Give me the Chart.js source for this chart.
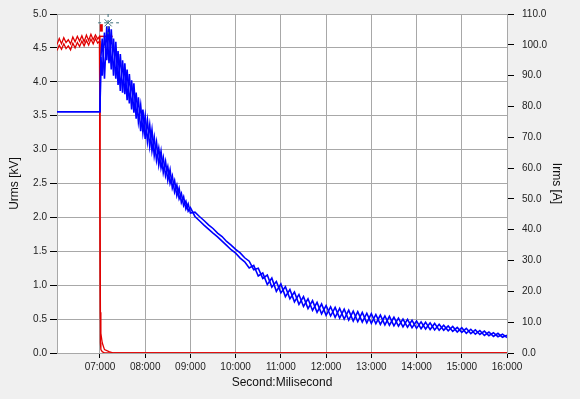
<!DOCTYPE html>
<html>
<head>
<meta charset="utf-8">
<script src="https://cdn.jsdelivr.net/npm/chart.js@4.4.0/dist/chart.umd.min.js"></script>
<style>
  body { margin: 0; background: #f0f0f0; }
  #wrap { width: 580px; height: 399px; }
</style>
</head>
<body>
<div id="wrap"><canvas id="myChart" width="580" height="399"></canvas></div>
<script>
// x ticks (seconds)
const xTicks = [7, 8, 9, 10, 11, 12, 13, 14, 15, 16];

// current traces (A), right axis
const blueTimes = [6.05, 7.00, 7.02,
  7.05, 7.10, 7.15, 7.20, 7.25, 7.30, 7.35, 7.40, 7.45, 7.50,
  7.55, 7.60, 7.65, 7.70, 7.75, 7.80, 7.85, 7.90, 7.95, 8.00,
  8.05, 8.10, 8.15, 8.20, 8.25, 8.30, 8.35, 8.40, 8.45, 8.50,
  8.55, 8.60, 8.65, 8.70, 8.75, 8.80, 8.85, 8.90, 8.95, 9.00,
  9.1, 9.2, 9.3, 9.4, 9.5, 9.6, 9.7, 9.8, 9.9, 10.0,
  10.1, 10.2, 10.3, 10.4, 10.5, 10.6, 10.7, 10.8, 10.9, 11.0,
  11.1, 11.2, 11.3, 11.4, 11.5, 11.6, 11.7, 11.8, 11.9, 12.0,
  12.1, 12.2, 12.3, 12.4, 12.5, 12.6, 12.7, 12.8, 12.9, 13.0,
  13.1, 13.2, 13.3, 13.4, 13.5, 13.6, 13.7, 13.8, 13.9, 14.0,
  14.1, 14.2, 14.3, 14.4, 14.5, 14.6, 14.7, 14.8, 14.9, 15.0,
  15.1, 15.2, 15.3, 15.4, 15.5, 15.6, 15.7, 15.8, 15.9, 16.0];

const irmsA = [78.3, 78.3, 96,
  102, 89, 106, 94, 105, 90, 101, 87, 97, 84.5,
  94, 82, 90.5, 79, 87.5, 76, 83, 72, 79, 69.5,
  75.5, 67, 72.5, 64, 68.5, 61, 65.5, 58.5, 62.2, 56,
  59.5, 53.5, 56, 51, 53.5, 48.8, 50.7, 46.7, 48.4, 45.4,
  45.7, 44.3, 43.0, 41.6, 40.4, 38.9, 37.8, 36.2, 35.0, 33.6,
  32.5, 30.9, 29.8, 27.0, 27.5, 24.2, 25.3, 21.4, 23.2, 19.5,
  21.5, 17.6, 19.8, 15.8, 18.3, 14.4, 17.0, 13.2, 15.9, 12.2,
  15.0, 11.6, 14.5, 11.0, 13.9, 10.4, 13.4, 10.0, 12.9, 9.6,
  12.5, 9.3, 12.0, 9.0, 11.6, 8.7, 11.0, 8.4, 10.6, 8.0,
  10.1, 7.8, 9.8, 7.5, 9.3, 7.4, 8.8, 7.0, 8.3, 6.7,
  8.0, 6.3, 7.5, 6.0, 7.1, 5.6, 6.6, 5.3, 6.1, 5.0];

const irmsB = [78.3, 78.3, 96,
  90, 104, 95, 106, 92, 102, 89, 98, 85, 95,
  84, 92, 81, 88.5, 78, 84.5, 75, 80.5, 71.5, 77,
  68.5, 74, 65.5, 70, 62.5, 66.5, 60, 63.5, 57.5, 60.5,
  55, 57.5, 52.2, 54.5, 50, 51.8, 47.8, 49.3, 46, 47.2,
  44.3, 42.9, 41.5, 40.2, 38.9, 37.7, 36.3, 34.9, 33.5, 32.4,
  30.8, 29.6, 27.6, 28.4, 25.0, 26.0, 22.2, 24.3, 20.0, 22.4,
  18.3, 20.6, 16.6, 19.0, 15.1, 17.6, 13.8, 16.4, 12.7, 15.4,
  12.0, 14.8, 11.3, 14.2, 10.7, 13.6, 10.2, 13.2, 9.8, 12.8,
  9.5, 12.3, 9.1, 11.9, 8.8, 11.3, 8.5, 10.9, 8.2, 10.4,
  7.9, 10.0, 7.6, 9.6, 7.4, 9.0, 7.2, 8.6, 6.8, 8.2,
  6.4, 7.7, 6.1, 7.3, 5.7, 6.8, 5.4, 6.4, 5.1, 5.8];

// voltage traces (kV), left axis
const redTimes = [6.05, 6.10, 6.15, 6.20, 6.25, 6.30, 6.35, 6.40, 6.45, 6.50,
  6.55, 6.60, 6.65, 6.70, 6.75, 6.80, 6.85, 6.90, 6.95, 6.99,
  7.00, 7.01, 7.02, 7.05, 7.10, 7.20, 7.30, 16.0];
const urmsA = [4.55, 4.64, 4.56, 4.65, 4.58, 4.62, 4.56, 4.66, 4.59, 4.67,
  4.60, 4.68, 4.59, 4.69, 4.61, 4.70, 4.62, 4.69, 4.63, 4.67,
  2.3, 0.6, 0.29, 0.15, 0.05, 0.02, 0.0, 0.0];
const urmsB = [4.46, 4.54, 4.48, 4.56, 4.49, 4.53, 4.47, 4.57, 4.50, 4.58,
  4.52, 4.60, 4.53, 4.61, 4.54, 4.63, 4.56, 4.64, 4.57, 4.60,
  2.3, 0.15, 0.05, 0.02, 0.0, 0.0, 0.0, 0.0];

// short voltage pieces right at the switch-off
const holdTimes = [7.0, 7.28];
const holdKV = [4.67, 4.67];
const spikeTimes = [7.03, 7.03];
const spikeKV = [4.74, 4.85];

// cursor marker
const cursorT = 7.18;
const cursorKV = 4.87;

function pts(xs, ys) {
    return xs.map((x, i) => ({x: x, y: ys[i]}));
}

// white plot area
const plotBg = {
    id: 'plotBg',
    beforeDraw(chart) {
        const a = chart.chartArea;
        const ctx = chart.ctx;
        ctx.save();
        ctx.fillStyle = '#ffffff';
        ctx.fillRect(a.left, a.top, a.right - a.left, a.bottom - a.top);
        ctx.restore();
    }
};

const BLUE = '#0000ff';
const RED = '#e00000';
const CURSOR = '#3d6e7a';
const tickFont = {family: 'Liberation Sans', size: 10};
const titleFont = {family: 'Liberation Sans', size: 12};

const line = (data, color, axis, width) => ({
    data: data,
    borderColor: color,
    borderWidth: width || 1,
    pointRadius: 0,
    tension: 0,
    fill: false,
    yAxisID: axis
});

var ctx = document.getElementById('myChart').getContext('2d');
var myChart = new Chart(ctx, {
    type: 'line',
    data: {
        datasets: [
            {...line([{x: cursorT, y: cursorKV}], CURSOR, 'y', 1), pointRadius: 5, pointStyle: 'crossRot', pointBorderColor: CURSOR, showLine: false},
            {...line([{x: 6.96, y: cursorKV}, {x: 7.42, y: cursorKV}], CURSOR, 'y'), borderDash: [3, 3]},
            {...line([{x: cursorT, y: 5.0}, {x: cursorT, y: 4.70}], CURSOR, 'y'), borderDash: [3, 3]},
            line(pts(blueTimes, irmsA), BLUE, 'y1', 1.6),
            line(pts(blueTimes, irmsB), BLUE, 'y1', 1.6),
            line(pts(spikeTimes, spikeKV), RED, 'y', 3),
            line(pts(holdTimes, holdKV), RED, 'y', 1.5),
            line(pts(redTimes, urmsA), RED, 'y', 1.3),
            line(pts(redTimes, urmsB), RED, 'y', 1.3)
        ]
    },
    options: {
        responsive: false,
        animation: false,
        layout: { padding: {top: 9, left: 0, right: 0, bottom: 0} },
        plugins: { legend: {display: false}, tooltip: {enabled: false} },
        scales: {
            x: {
                type: 'linear',
                min: 6.05,
                max: 16,
                afterBuildTicks: (s) => { s.ticks = xTicks.map(v => ({value: v})); },
                afterFit: (s) => { s.height = 46; },
                grid: { color: '#a8a8a8', tickColor: '#000', tickLength: 5 },
                border: { color: '#a8a8a8' },
                ticks: {
                    font: tickFont, color: '#222', padding: 3, maxRotation: 0,
                    callback: (v) => String(v).padStart(2, '0') + ':000'
                },
                title: { display: true, text: 'Second:Milisecond', font: titleFont, color: '#111', padding: {top: 0, bottom: 9} }
            },
            y: {
                position: 'left',
                min: 0,
                max: 5,
                afterFit: (s) => { s.width = 57; },
                grid: { color: '#a8a8a8', tickColor: '#000', tickLength: 7 },
                border: { color: '#a8a8a8' },
                ticks: { stepSize: 0.5, font: tickFont, color: '#222', padding: 3, callback: (v) => v.toFixed(1) },
                title: { display: true, text: 'Urms [kV]', font: titleFont, color: '#111', padding: {top: 7, bottom: 0} }
            },
            y1: {
                position: 'right',
                min: 0,
                max: 110,
                afterFit: (s) => { s.width = 73; },
                grid: { drawOnChartArea: false, tickColor: '#000', tickLength: 7 },
                border: { color: '#a8a8a8' },
                ticks: { stepSize: 10, font: tickFont, color: '#222', padding: 8, callback: (v) => v.toFixed(1) },
                title: { display: true, text: 'Irms [A]', font: titleFont, color: '#111', padding: {top: 16, bottom: 0} }
            }
        }
    },
    plugins: [plotBg]
});
</script>
</body>
</html>
